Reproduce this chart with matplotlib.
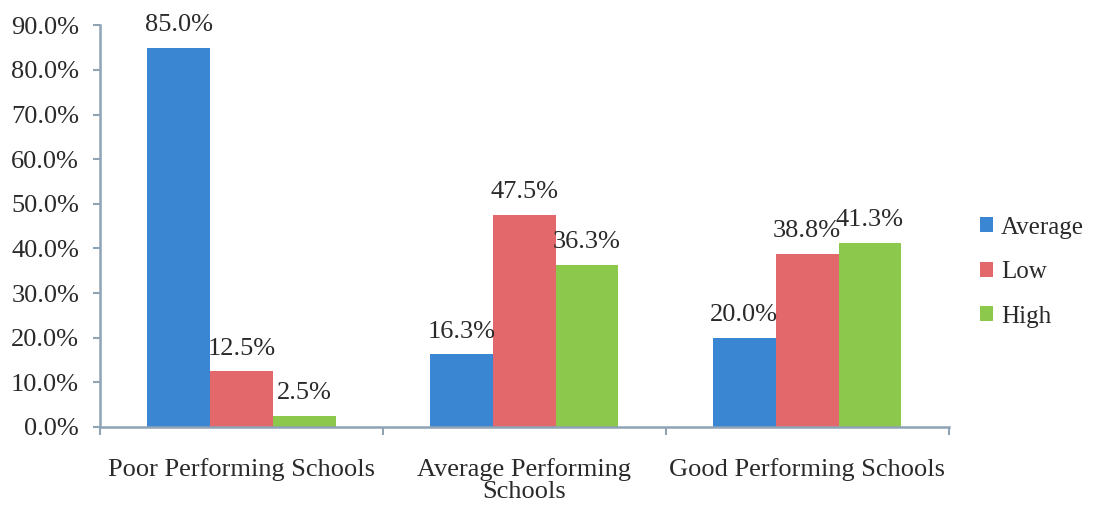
import numpy as np
import matplotlib.pyplot as plt

plt.rcParams['font.family'] = ['Liberation Serif', 'DejaVu Serif']

categories = ['Poor Performing Schools', 'Average Performing\nSchools', 'Good Performing Schools']
series = ['Average', 'Low', 'High']
average = [85.0, 16.3, 20.0]
low = [12.5, 47.5, 38.8]
high = [2.5, 36.3, 41.3]
colors = ['#3b86d2', '#e2686c', '#8cc84b']
yticks = [0, 10, 20, 30, 40, 50, 60, 70, 80, 90]

fig = plt.figure(figsize=(10.95, 5.05), dpi=100)
ax = fig.add_axes([0.0913, 0.1545, 0.775, 0.7955])

x = np.arange(len(categories))
w = 0.222
for i, (name, vals) in enumerate(zip(series, [average, low, high])):
    pos = x + (i - 1) * w
    ax.bar(pos, vals, w, color=colors[i], label=name)
    for p, v in zip(pos, vals):
        ax.text(p, v + 2.6, f'{v:.1f}%', ha='center', va='bottom', fontsize=19, color='#2a2a2a')

ax.set_xlim(-0.5, 2.5)
ax.set_ylim(0, 90)
ax.set_yticks(yticks)
ax.set_yticklabels([f'{t:.1f}%' for t in yticks], fontsize=19, color='#2a2a2a')
ax.set_xticks(x)
ax.set_xticklabels(categories, fontsize=19, color='#2a2a2a', linespacing=1.05)
ax.set_xticks([-0.5, 0.5, 1.5, 2.5], minor=True)
ax.tick_params(axis='x', which='major', length=0, pad=22)
ax.tick_params(axis='x', which='minor', length=6, color='#8ea3b6', width=1.5)
ax.tick_params(axis='y', length=5, color='#8ea3b6', width=1.5, pad=10)

for s in ['top', 'right']:
    ax.spines[s].set_visible(False)
for s in ['left', 'bottom']:
    ax.spines[s].set_color('#8ea3b6')
    ax.spines[s].set_linewidth(1.8)

ax.legend(loc='center left', bbox_to_anchor=(1.01, 0.385), frameon=False, fontsize=18,
          handlelength=0.55, handleheight=0.55, handletextpad=0.3, labelspacing=0.9,
          labelcolor='#2a2a2a')

fig.savefig('out.png', dpi=100)
